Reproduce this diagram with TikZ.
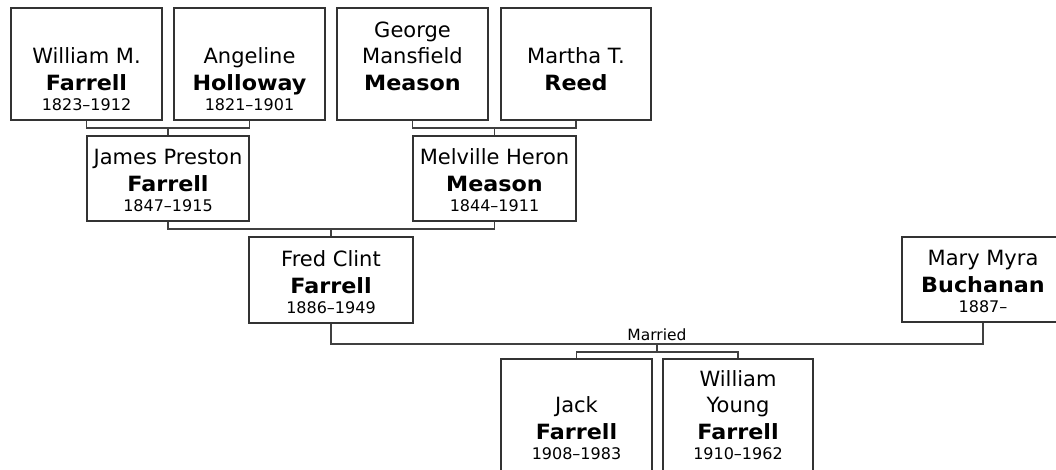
\documentclass[tikz,border=0pt]{standalone}
\usepackage{fontspec}
\setmainfont[BoldFeatures={FakeStretch=1.06}]{DejaVu Sans}
\begin{document}
\begin{tikzpicture}[x=1pt,y=-1pt,
  box/.style={draw=black!80, line width=1.3pt, inner sep=0pt, fill=white},
  ptext/.style={anchor=south, inner sep=0pt, align=center, text=black,
    font=\fontsize{21}{26.5}\selectfont},
  conn/.style={draw=black!75, line width=1.2pt},
  lbl/.style={anchor=base, inner sep=0pt, font=\fontsize{15.5}{18}\selectfont}
]
\useasboundingbox (0,0) rectangle (1056,469);
\clip (0,0) rectangle (1056,469);
% boxes
\node[box, minimum width=151pt, minimum height=112pt] (wmf) at (86.5,64) {};
\node[box, minimum width=151pt, minimum height=112pt] (ah) at (249.5,64) {};
\node[box, minimum width=151pt, minimum height=112pt] (gmm) at (412.5,64) {};
\node[box, minimum width=150pt, minimum height=112pt] (mtr) at (576,64) {};
\node[box, minimum width=162pt, minimum height=85pt] (jpf) at (168,178.5) {};
\node[box, minimum width=163pt, minimum height=85pt] (mhm) at (494.5,178.5) {};
\node[box, minimum width=164pt, minimum height=86pt] (fcf) at (331,280) {};
\node[box, minimum width=162pt, minimum height=85pt] (mmb) at (983,279.5) {};
\node[box, minimum width=151pt, minimum height=112pt] (jf) at (576.5,415) {};
\node[box, minimum width=150pt, minimum height=112pt] (wyf) at (738,415) {};
% texts
\node[ptext] (twmf) at ([yshift=10pt]wmf.south) {William M.\\\textbf{Farrell}\\[-6.5pt]{\fontsize{16}{18}\selectfont 1823–1912}};
\node[ptext] (tah) at ([yshift=10pt]ah.south) {Angeline\\\textbf{Holloway}\\[-6.5pt]{\fontsize{16}{18}\selectfont 1821–1901}};
\node[ptext] (tgmm) at ([yshift=10pt]gmm.south) {George\\Mansfield\\\textbf{Meason}\\[-6.5pt]{\fontsize{16}{18}\selectfont\phantom{1}}};
\node[ptext] (tmtr) at ([yshift=10pt]mtr.south) {Martha T.\\\textbf{Reed}\\[-6.5pt]{\fontsize{16}{18}\selectfont\phantom{1}}};
\node[ptext] (tjpf) at ([yshift=10pt]jpf.south) {James Preston\\\textbf{Farrell}\\[-6.5pt]{\fontsize{16}{18}\selectfont 1847–1915}};
\node[ptext] (tmhm) at ([yshift=10pt]mhm.south) {Melville Heron\\\textbf{Meason}\\[-6.5pt]{\fontsize{16}{18}\selectfont 1844–1911}};
\node[ptext] (tfcf) at ([yshift=10pt]fcf.south) {Fred Clint\\\textbf{Farrell}\\[-6.5pt]{\fontsize{16}{18}\selectfont 1886–1949}};
\node[ptext] (tmmb) at ([yshift=10pt]mmb.south) {Mary Myra\\\textbf{Buchanan}\\[-6.5pt]{\fontsize{16}{18}\selectfont 1887–}};
\node[ptext] (tjf) at ([yshift=12pt]jf.south) {Jack\\\textbf{Farrell}\\[-6.5pt]{\fontsize{16}{18}\selectfont 1908–1983}};
\node[ptext] (twyf) at ([yshift=12pt]wyf.south) {William\\Young\\\textbf{Farrell}\\[-6.5pt]{\fontsize{16}{18}\selectfont 1910–1962}};
% junction coordinates
\coordinate (j1) at (168,128);
\coordinate (j2) at (494.5,128);
\coordinate (j3) at (331,229);
\coordinate (j4) at (657,344);
\coordinate (j5) at (657,352);
% connectors
\draw[conn] (wmf.south) |- (j1) -| (ah.south);
\draw[conn] (j1) -- (jpf.north);
\draw[conn] (gmm.south) |- (j2) -| (mtr.south);
\draw[conn] (j2) -- (mhm.north);
\draw[conn] (jpf.south) |- (j3) -| (mhm.south);
\draw[conn] (j3) -- (fcf.north);
\draw[conn] (fcf.south) |- (j4) -| (mmb.south);
\draw[conn] (j4) -- (j5);
\draw[conn] (jf.north) |- (j5) -| (wyf.north);
\node[lbl] (married) at (657,340) {Married};
\end{tikzpicture}
\end{document}
